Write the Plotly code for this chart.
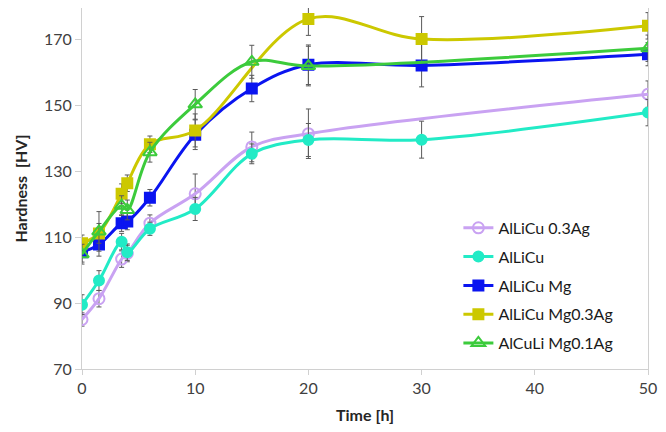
import plotly.graph_objects as go

# Time points [h]
t_all = [0, 1.5, 3.5, 4, 6, 10, 15, 20, 30, 50]
t_no30 = [0, 1.5, 3.5, 4, 6, 10, 15, 20, 50]
t_no15 = [0, 1.5, 3.5, 4, 6, 10, 20, 30, 50]

# Hardness [HV]
alLiCu_03Ag = [85.0, 91.3, 103.3, 105.0, 114.2, 123.1, 137.3, 141.3, 153.3]
alLiCu_03Ag_err = [2, 2.5, 2.5, 2.5, 2.5, 6, 4.5, 7.5, 4]

alLiCu = [89.5, 96.8, 108.6, 105.4, 112.5, 118.5, 135.2, 139.4, 139.5, 147.7]
alLiCu_err = [3, 3, 2.5, 2.5, 2, 3.5, 3, 5, 5.6, 4]

alLiCu_Mg = [105.4, 107.7, 114.2, 114.7, 121.9, 141.0, 155.0, 162.2, 162.0, 165.4]
alLiCu_Mg_err = [3, 3.5, 2.5, 2.5, 2.5, 4.5, 4, 6, 6.5, 3.5]

alLiCu_Mg03Ag = [108.1, 111.1, 123.1, 126.3, 138.1, 142.3, 176.1, 170.0, 174.0]
alLiCu_Mg03Ag_err = [2.5, 3, 3, 2.5, 2.5, 5, 5, 6.8, 4]

alCuLi_Mg01Ag = [104.8, 111.7, 119.5, 118.2, 135.7, 150.2, 163.1, 161.8, 167.2]
alCuLi_Mg01Ag_err = [3, 6, 3, 3, 3, 4.5, 5, 6, 4]

x_ticks = [0, 10, 20, 30, 40, 50]
y_ticks = [70, 90, 110, 130, 150, 170]

series = [
    ("AlLiCu 0.3Ag", t_no30, alLiCu_03Ag, alLiCu_03Ag_err, "#C9A2F2", "circle-open", 11),
    ("AlLiCu", t_all, alLiCu, alLiCu_err, "#22EBC6", "circle", 10),
    ("AlLiCu Mg", t_all, alLiCu_Mg, alLiCu_Mg_err, "#0A14F0", "square", 10),
    ("AlLiCu Mg0.3Ag", t_no15, alLiCu_Mg03Ag, alLiCu_Mg03Ag_err, "#CCC800", "square", 10),
    ("AlCuLi Mg0.1Ag", t_no30, alCuLi_Mg01Ag, alCuLi_Mg01Ag_err, "#3CCB3C", "triangle-up-open", 12),
]

fig = go.Figure()
for i, (name, xs, ys, es, color, sym, size) in enumerate(series):
    fig.add_trace(go.Scatter(
        x=xs, y=ys, name=name, mode="lines+markers",
        line=dict(color=color, width=3, shape="spline", smoothing=1.0),
        marker=dict(symbol=sym, size=size, color=color,
                    line=dict(color=color, width=2)),
        error_y=dict(type="data", array=es, visible=True,
                     color="#5A5A5A", thickness=1, width=2.5),
        legendgroup=f"g{i}",
    ))

font_family = "Lato, 'Open Sans', sans-serif"
fig.update_layout(
    width=658, height=424,
    margin=dict(l=74, r=18, t=0, b=63),
    paper_bgcolor="white", plot_bgcolor="white",
    font=dict(family=font_family, size=15, color="#404040"),
    showlegend=True,
    legend=dict(x=0.665, y=0.438, xanchor="left", yanchor="top",
                bgcolor="rgba(0,0,0,0)", font=dict(size=16, color="#1a1a1a"),
                tracegroupgap=5),
    xaxis=dict(range=[0, 50], tickvals=x_ticks, showgrid=False, zeroline=False,
               automargin=False,
               showline=True, linecolor="#D0D0D0", linewidth=1, mirror=True,
               ticks="outside", ticklen=5, tickcolor="#D0D0D0",
               tickfont=dict(size=16, color="#404040"),
               title=dict(text="<b>Time [h]</b>", font=dict(size=16, color="#262626"), standoff=13)),
    yaxis=dict(range=[70, 179.4], tickvals=y_ticks, showgrid=False, zeroline=False,
               automargin=False,
               showline=True, linecolor="#D0D0D0", linewidth=1, mirror=True,
               ticks="outside", ticklen=6, tickcolor="#D0D0D0",
               tickfont=dict(size=16, color="#404040"),
               title=dict(text="<b>Hardness  [HV]</b>", font=dict(size=16, color="#262626"), standoff=12)),
)

fig.write_html("out.html")
